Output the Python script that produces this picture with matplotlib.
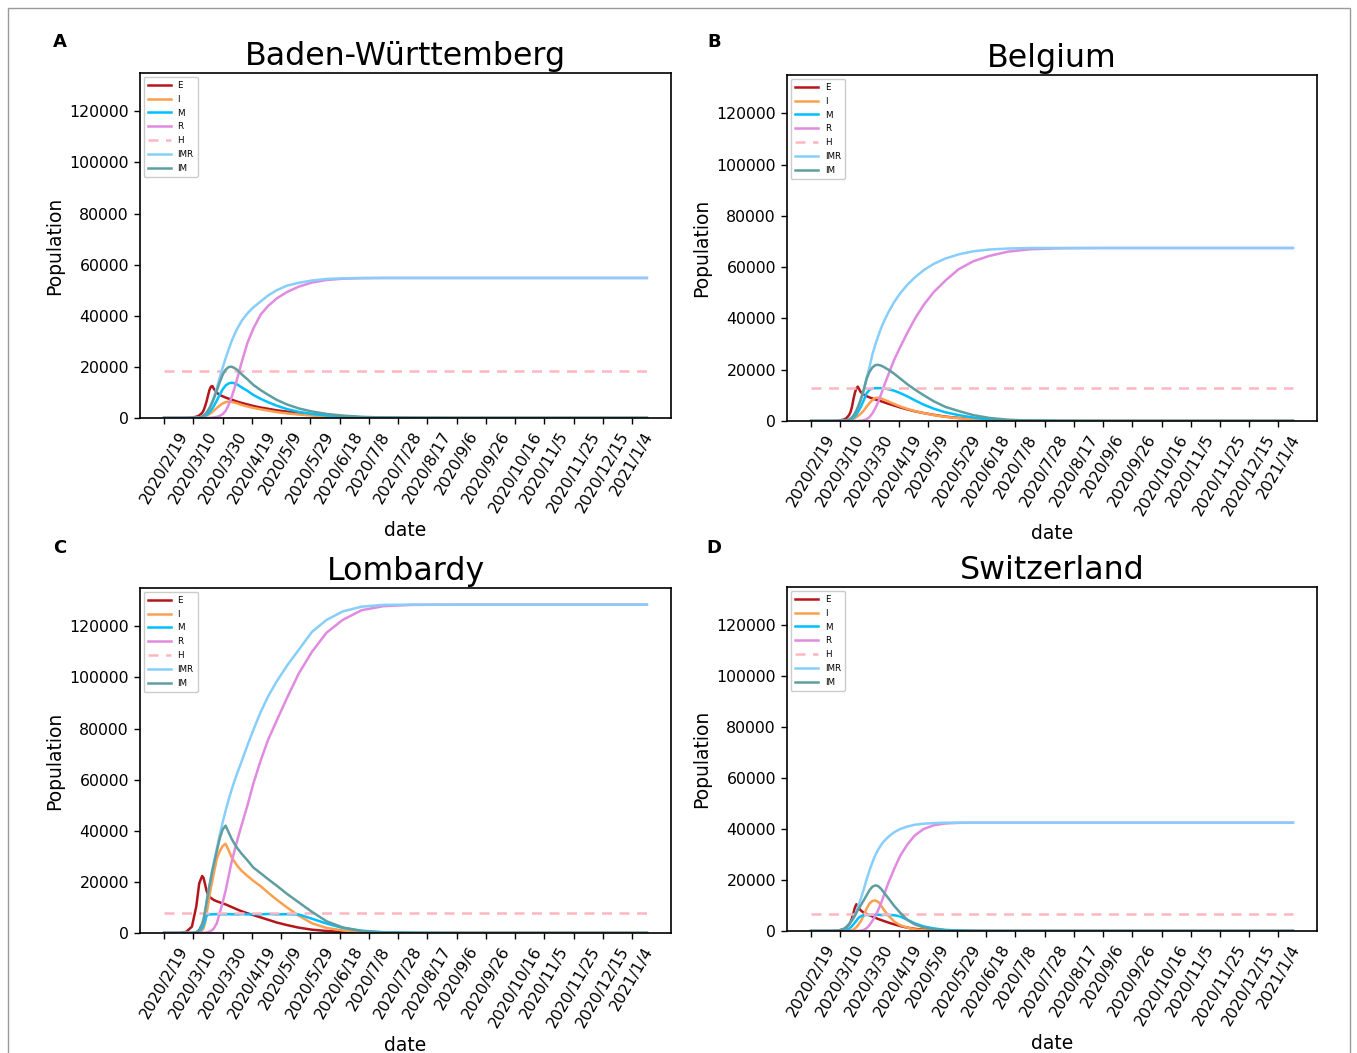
import matplotlib
matplotlib.use('Agg')
import matplotlib.pyplot as plt
from matplotlib.patches import Rectangle
import pandas as pd

# ---------------- data ----------------
start_date = '2020-02-19'
days = [0, 10, 15, 19, 22, 24, 26, 27, 28, 29, 30, 31, 32, 33, 34, 36, 38, 40, 42, 44,
        46, 48, 50, 53, 57, 61, 66, 71, 77, 84, 92, 101, 111, 122, 135, 150, 170, 200, 250, 330]

tick_labels = ['2020/2/19', '2020/3/10', '2020/3/30', '2020/4/19', '2020/5/9', '2020/5/29',
               '2020/6/18', '2020/7/8', '2020/7/28', '2020/8/17', '2020/9/6', '2020/9/26',
               '2020/10/16', '2020/11/5', '2020/11/25', '2020/12/15', '2021/1/4']

series_names = ['E', 'I', 'M', 'R', 'H', 'IMR', 'IM']
panel_titles = ['Baden-Württemberg', 'Belgium', 'Lombardy', 'Switzerland']
panel_letters = ['A', 'B', 'C', 'D']

# Baden-Württemberg
bw_E = [0, 0, 30, 150, 500, 1000, 2000, 3000, 4600, 6500, 8800, 11000, 12300, 12500, 11400, 9900, 9000, 8500, 8000, 7600,
        7200, 6800, 6400, 5900, 5300, 4700, 4100, 3600, 3000, 2500, 2000, 1450, 950, 550, 250, 90, 25, 0, 0, 0]
bw_I = [0, 0, 0, 0, 30, 100, 300, 450, 650, 900, 1200, 1550, 1950, 2400, 2900, 3900, 4900, 5700, 6200, 6400,
        6300, 6000, 5700, 5100, 4500, 3950, 3400, 2900, 2300, 1800, 1350, 950, 600, 350, 160, 60, 20, 0, 0, 0]
bw_M = [0, 0, 0, 0, 30, 100, 300, 500, 800, 1200, 1700, 2300, 3000, 3800, 4700, 6800, 9100, 11200, 12700, 13500,
        13800, 13600, 13100, 12000, 10600, 9000, 7500, 6200, 4800, 3500, 2400, 1600, 1000, 600, 300, 120, 30, 0, 0, 0]
bw_R = [0, 0, 0, 0, 0, 0, 0, 0, 0, 20, 40, 70, 110, 160, 230, 450, 850, 1500, 2800, 5000,
        8000, 11500, 15500, 21800, 29500, 35000, 40500, 43800, 46800, 49300, 51400, 53000, 54000, 54500, 54700, 54800, 54800, 54800, 54800, 54800]
bw_H = 18200
bw_IMR = [0, 0, 0, 0, 60, 200, 600, 950, 1450, 2150, 3000, 4000, 5200, 6600, 8100, 11700, 15800, 19700, 23300, 26700,
          29800, 32600, 35000, 38000, 41000, 43300, 45600, 47900, 50000, 51800, 52900, 53800, 54400, 54650, 54800, 54800, 54800, 54800, 54800, 54800]
bw_IM = [0, 0, 0, 0, 60, 200, 600, 950, 1450, 2100, 2900, 3850, 4950, 6200, 7600, 10700, 14000, 16900, 18900, 19900,
         20100, 19600, 18800, 17100, 15100, 12950, 10900, 9100, 7100, 5300, 3750, 2550, 1600, 950, 460, 180, 50, 0, 0, 0]

# Belgium
be_E = [0, 0, 30, 150, 500, 1000, 2300, 3500, 5500, 8500, 11000, 12800, 13400, 12300, 11300, 10300, 9700, 9200, 8800, 8400,
        8000, 7700, 7300, 6700, 6000, 5300, 4500, 3800, 3100, 2400, 1700, 1200, 750, 420, 200, 80, 20, 0, 0, 0]
be_I = [0, 0, 0, 0, 30, 100, 250, 400, 600, 850, 1150, 1500, 1900, 2350, 2850, 4000, 5600, 7000, 8200, 9000,
        9100, 8800, 8300, 7600, 6600, 5700, 4700, 3900, 3100, 2300, 1600, 1100, 650, 350, 150, 50, 15, 0, 0, 0]
be_M = [0, 0, 0, 0, 30, 100, 300, 500, 800, 1200, 1800, 2500, 3400, 4400, 5500, 8000, 10800, 12200, 12700, 12800,
        12800, 12800, 12700, 12400, 11800, 10900, 9600, 8100, 6400, 4800, 3400, 2300, 1350, 650, 280, 100, 25, 0, 0, 0]
be_R = [0, 0, 0, 0, 0, 0, 0, 0, 0, 0, 0, 0, 0, 50, 100, 300, 700, 1500, 3000, 5000,
        7500, 10500, 13800, 18200, 24000, 28800, 34500, 39800, 45200, 50300, 54800, 59200, 62300, 64400, 66100, 67000, 67400, 67500, 67500, 67500]
be_H = 13000
be_IMR = [0, 0, 0, 0, 60, 200, 550, 900, 1400, 2050, 2950, 4000, 5300, 6750, 8350, 12000, 16800, 21000, 26000, 29800,
          33200, 36300, 39000, 42500, 46500, 49800, 53200, 56000, 58800, 61300, 63400, 65000, 66200, 66900, 67300, 67500, 67500, 67500, 67500, 67500]
be_IM = [0, 0, 0, 0, 60, 200, 550, 900, 1400, 2050, 2950, 4000, 5300, 6750, 8350, 12000, 16400, 19200, 20900, 21800,
         21900, 21600, 21000, 20000, 18400, 16600, 14300, 12300, 10100, 7700, 5500, 3900, 2300, 1200, 500, 170, 40, 0, 0, 0]

# Lombardy
lo_E = [0, 20, 400, 2500, 10500, 19500, 22300, 21500, 19000, 16500, 15000, 14200, 13700, 13300, 12900, 12400, 12000, 11600, 11200, 10700,
        10200, 9700, 9200, 8500, 7700, 7000, 6100, 5200, 4100, 3100, 2100, 1300, 800, 400, 150, 50, 10, 0, 0, 0]
lo_I = [0, 0, 0, 0, 0, 200, 1000, 2000, 4000, 7500, 11000, 14500, 17800, 20500, 23500, 29000, 32000, 34000, 34900, 32500,
        29800, 28000, 26300, 24300, 22300, 20400, 18300, 15800, 13000, 10000, 6800, 3800, 2000, 1000, 350, 100, 20, 0, 0, 0]
lo_M = [0, 0, 0, 0, 100, 600, 2000, 3200, 5000, 6800, 7200, 7300, 7250, 7350, 7300, 7400, 7250, 7350, 7300, 7400,
        7300, 7350, 7250, 7400, 7300, 7350, 7300, 7450, 7300, 7350, 7250, 5600, 3700, 2000, 900, 300, 60, 0, 0, 0]
lo_R = [0, 0, 0, 0, 0, 0, 0, 50, 100, 200, 350, 550, 850, 1250, 1800, 3800, 7800, 12000, 16500, 22000,
        27500, 32000, 36300, 42300, 50000, 58500, 67500, 75500, 83200, 92000, 101500, 110000, 117500, 122500, 126300, 127900, 128400, 128500, 128500, 128500]
lo_H = 7700
lo_IMR = [0, 0, 0, 0, 300, 1200, 3500, 5500, 8500, 12000, 15500, 18600, 21700, 24800, 27600, 33000, 38300, 43300, 47800, 52000,
          55800, 59300, 62600, 67200, 73500, 79500, 86500, 92500, 98500, 104600, 110800, 117800, 122500, 125800, 127700, 128400, 128500, 128500, 128500, 128500]
lo_IM = [0, 0, 0, 0, 300, 1200, 3500, 5500, 8500, 12000, 15500, 18500, 21500, 24500, 27000, 32000, 37000, 40500, 42000, 39500,
         37000, 35000, 33200, 31000, 28400, 25600, 23400, 21100, 18500, 15300, 12000, 8300, 4600, 2200, 750, 200, 40, 0, 0, 0]

# Switzerland
sw_E = [0, 0, 50, 250, 700, 1300, 2500, 3500, 5000, 7000, 9200, 10500, 9600, 8800, 8100, 7200, 6700, 6200, 5700, 5200,
        4700, 4300, 3900, 3300, 2600, 1950, 1300, 850, 500, 260, 120, 50, 15, 0, 0, 0, 0, 0, 0, 0]
sw_I = [0, 0, 0, 0, 0, 0, 100, 200, 300, 600, 1000, 1500, 2200, 3000, 3800, 6000, 8800, 10800, 11800, 12000,
        11400, 9900, 8200, 6000, 3700, 2300, 1300, 650, 280, 100, 30, 0, 0, 0, 0, 0, 0, 0, 0, 0]
sw_M = [0, 0, 0, 0, 150, 400, 900, 1400, 1900, 2600, 3300, 4000, 4800, 5400, 5800, 6200, 6300, 6250, 6350, 6300,
        6400, 6250, 6350, 6300, 6200, 5700, 4400, 3000, 1800, 1000, 450, 180, 50, 10, 0, 0, 0, 0, 0, 0]
sw_R = [0, 0, 0, 0, 0, 0, 0, 0, 0, 0, 0, 0, 0, 50, 100, 400, 1100, 2300, 4000, 6000,
        8300, 11000, 14300, 19000, 24500, 29500, 34000, 37500, 40000, 41500, 42200, 42450, 42500, 42500, 42500, 42500, 42500, 42500, 42500, 42500]
sw_H = 6500
sw_IMR = [0, 0, 0, 100, 600, 1500, 2700, 3400, 4200, 5100, 6300, 7800, 9400, 11000, 12600, 16200, 20200, 23800, 27000, 29800,
          32000, 33800, 35300, 37000, 38800, 40000, 41000, 41700, 42100, 42350, 42500, 42500, 42500, 42500, 42500, 42500, 42500, 42500, 42500, 42500]
sw_IM = [0, 0, 0, 100, 600, 1500, 2700, 3400, 4200, 5000, 6000, 7100, 8200, 9200, 10100, 12000, 14000, 16000, 17400, 17900,
         17600, 16500, 15000, 12800, 9800, 7200, 4300, 2600, 1400, 650, 250, 80, 20, 0, 0, 0, 0, 0, 0, 0]

# ---------------- styling ----------------
colors = {'E': '#b5161b', 'I': '#fca04f', 'M': '#00bfff', 'R': '#e08be0',
          'H': '#ffb6c1', 'IMR': '#87cefa', 'IM': '#5f9ea0'}

panels = [
    dict(E=bw_E, I=bw_I, M=bw_M, R=bw_R, H=bw_H, IMR=bw_IMR, IM=bw_IM),
    dict(E=be_E, I=be_I, M=be_M, R=be_R, H=be_H, IMR=be_IMR, IM=be_IM),
    dict(E=lo_E, I=lo_I, M=lo_M, R=lo_R, H=lo_H, IMR=lo_IMR, IM=lo_IM),
    dict(E=sw_E, I=sw_I, M=sw_M, R=sw_R, H=sw_H, IMR=sw_IMR, IM=sw_IM),
]

W, H = 1357, 1053
fig = plt.figure(figsize=(W / 100, H / 100), dpi=100)

# axes rectangles in pixels: left, top, right, bottom
rects = [(140, 73, 671, 418), (787, 75, 1317, 421), (140, 588, 671, 933), (787, 587, 1317, 931)]
letter_pos = [(60, 42), (714, 42), (60, 548), (714, 548)]

dates = pd.Timestamp(start_date) + pd.to_timedelta(days, unit='D')
tick_dates = pd.to_datetime(tick_labels, format='%Y/%m/%d')

for k, data in enumerate(panels):
    l, t, r, b = rects[k]
    ax = fig.add_axes([l / W, 1 - b / H, (r - l) / W, (b - t) / H])
    for name in series_names:
        vals = data[name]
        if name == 'H':
            vals = [vals] * len(days)
            ax.plot(dates, vals, color=colors[name], lw=1.8, ls=(0, (4, 3)), label=name)
        else:
            ax.plot(dates, vals, color=colors[name], lw=1.8, label=name)
    ax.set_ylim(0, 135000)
    ax.set_yticks([0, 20000, 40000, 60000, 80000, 100000, 120000])
    ax.set_xticks(tick_dates)
    ax.set_xticklabels(tick_labels, rotation=60, fontsize=11.3)
    ax.tick_params(axis='y', labelsize=11.3)
    ax.tick_params(length=4.5, width=1.0)
    ax.set_xlabel('date', fontsize=13.5)
    ax.set_ylabel('Population', fontsize=13.5)
    ax.set_title(panel_titles[k], fontsize=22.8, pad=6)
    for sp in ax.spines.values():
        sp.set_linewidth(1.2)
    leg = ax.legend(loc='upper left', fontsize=6.3, handlelength=2.6, borderpad=0.5,
                    labelspacing=0.55, handletextpad=0.8, borderaxespad=0.4, framealpha=1)
    leg.get_frame().set_edgecolor('#cccccc')
    lx, ly = letter_pos[k]
    fig.text(lx / W, 1 - ly / H, panel_letters[k], fontsize=13, fontweight='bold',
             ha='center', va='center')

fig.patches.append(Rectangle((8 / W, -0.02), (1350 - 8) / W, 1 - 8 / H + 0.02,
                             transform=fig.transFigure, fill=False,
                             edgecolor='#9a9a9a', lw=1.0))

fig.savefig('out.png', dpi=100)
